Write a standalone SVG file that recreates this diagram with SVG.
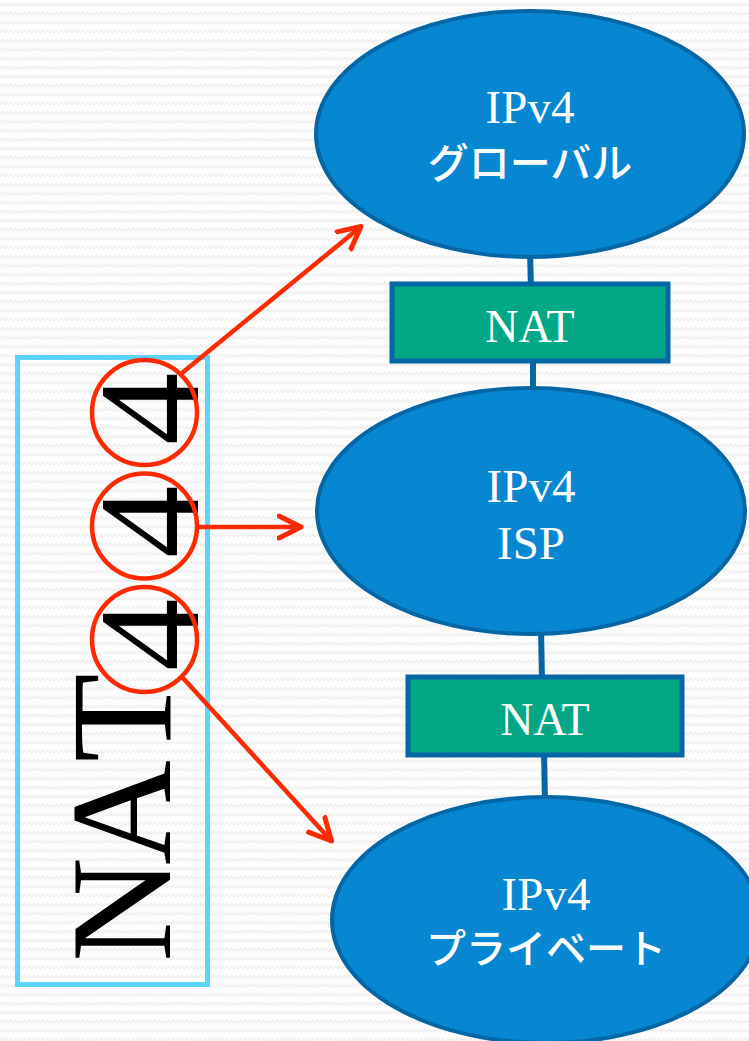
<svg xmlns="http://www.w3.org/2000/svg" width="749" height="1041" viewBox="0 0 749 1041">
  <defs>
    <pattern id="bgzig" width="9" height="9" patternUnits="userSpaceOnUse">
      <rect width="9" height="9" fill="#fdfdfd"/>
      <path d="M0,6 L2.25,3.5 L4.5,6 L6.75,3.5 L9,6" fill="none" stroke="#f0f0f0" stroke-width="1.6"/>
    </pattern>
    <marker id="ah" viewBox="0 0 28 28" refX="24" refY="14" markerWidth="28" markerHeight="28" markerUnits="userSpaceOnUse" orient="auto">
      <path d="M2,3 L24,14 L2,25" fill="none" stroke="#ff2a00" stroke-width="5" stroke-linecap="round" stroke-linejoin="round"/>
    </marker>
  </defs>
  <style>
    .net { fill: #0786d2; stroke: #0566a6; stroke-width: 4; }
    .nat { fill: #02a886; stroke: #0566a6; stroke-width: 5; }
    .wt { fill: #ffffff; font-family: "Liberation Serif", "Noto Sans CJK JP", serif; text-anchor: middle; }
    .jp { font-family: "Noto Sans CJK JP", sans-serif; font-weight: 500; }
    .link { stroke: #0566a6; stroke-width: 6; fill: none; }
    .red { stroke: #ff2a00; stroke-width: 4.5; fill: none; }
    .big { font-family: "Liberation Serif", serif; font-size: 145px; fill: #000000; }
  </style>
  <rect width="749" height="1041" fill="url(#bgzig)"/>

  <g id="connectors">
    <line class="link" x1="530" y1="250" x2="531" y2="290"/>
    <line class="link" x1="533" y1="356" x2="533" y2="394"/>
    <line class="link" x1="541" y1="628" x2="542" y2="682"/>
    <line class="link" x1="544" y1="750" x2="545" y2="804"/>
  </g>

  <g id="node-global">
    <ellipse class="net" cx="530" cy="134" rx="214" ry="123"/>
    <text class="wt" x="530" y="123" font-size="47">IPv4</text>
    <text class="wt jp" x="530" y="178" font-size="41">グローバル</text>
  </g>

  <g id="node-nat1">
    <rect class="nat" x="392" y="284" width="276" height="77"/>
    <text class="wt" x="530" y="342" font-size="46">NAT</text>
  </g>

  <g id="node-isp">
    <ellipse class="net" cx="531" cy="511" rx="214" ry="123"/>
    <text class="wt" x="531" y="502" font-size="47">IPv4</text>
    <text class="wt" x="531" y="559" font-size="47">ISP</text>
  </g>

  <g id="node-nat2">
    <rect class="nat" x="408" y="677" width="274" height="78"/>
    <text class="wt" x="545" y="735" font-size="46">NAT</text>
  </g>

  <g id="node-private">
    <ellipse class="net" cx="546" cy="920" rx="214" ry="123"/>
    <text class="wt" x="546" y="910" font-size="47">IPv4</text>
    <text class="wt jp" x="546" y="963" font-size="40">プライベート</text>
  </g>

  <g id="node-nat444">
    <rect x="17.5" y="357.5" width="190" height="627" fill="none" stroke="#5dd5fb" stroke-width="5"/>
    <g transform="translate(170,962) rotate(-90)">
      <text class="big" x="0 97 200 291 404 517" y="0" dy="0 0 0 28 0 0">NAT444</text>
    </g>
    <circle class="red" cx="144.5" cy="412.5" r="52.5"/>
    <circle class="red" cx="144.5" cy="526" r="52.5"/>
    <circle class="red" cx="144.5" cy="639.5" r="52.5"/>
  </g>

  <g id="arrows">
    <line class="red" x1="182" y1="373" x2="361" y2="226.5" marker-end="url(#ah)"/>
    <line class="red" x1="198" y1="527" x2="301" y2="527" marker-end="url(#ah)"/>
    <line class="red" x1="183" y1="678" x2="331.5" y2="841" marker-end="url(#ah)"/>
  </g>
</svg>
